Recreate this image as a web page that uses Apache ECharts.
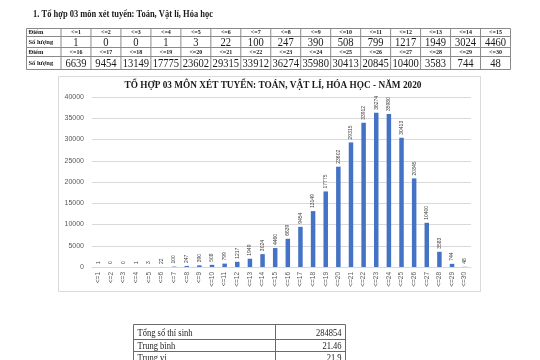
<!DOCTYPE html>
<html><head><meta charset="utf-8">
<script src="https://cdn.jsdelivr.net/npm/echarts@6/dist/echarts.min.js"></script>
<style>html,body{margin:0;padding:0;background:#fff}#c{width:540px;height:360px}</style>
</head><body><div id="c"></div>
<script>
// ---- data ----
const heading = '1. Tổ hợp 03 môn xét tuyển: Toán, Vật lí, Hóa học';
const chartTitle = 'TỔ HỢP 03 MÔN XÉT TUYỂN: TOÁN, VẬT LÍ, HÓA HỌC - NĂM 2020';
const categories = ['<=1','<=2','<=3','<=4','<=5','<=6','<=7','<=8','<=9','<=10','<=11','<=12','<=13','<=14','<=15',
  '<=16','<=17','<=18','<=19','<=20','<=21','<=22','<=23','<=24','<=25','<=26','<=27','<=28','<=29','<=30'];
const counts = [1,0,0,1,3,22,100,247,390,508,799,1217,1949,3024,4460,
  6639,9454,13149,17775,23602,29315,33912,36274,35980,30413,20845,10400,3583,744,48];
const rowLabelScore = 'Điểm';
const rowLabelCount = 'Số lượng';
const yMin = 0, yMax = 40000, yStep = 5000;
const summaryLabels = ['Tổng số thí sinh','Trung bình','Trung vị'];
const summaryValues = ['284854','21.46','21.9'];

// ---- helpers ----
const SERIF = '"Liberation Serif","DejaVu Serif",serif';
const SANS = '"Liberation Sans","Open Sans",sans-serif';
const mctx = document.createElement('canvas').getContext('2d');
function measure(text, font){ mctx.font = font; return mctx.measureText(text).width; }
const G = [];
function txt(text, x, y, o){
  o = o || {};
  const size = o.size || 10, weight = o.bold ? 'bold ' : '';
  const family = o.family || SERIF;
  const font = weight + size + 'px ' + family;
  let sx = o.sx || 1;
  if (o.width) sx = o.width / measure(text, font);
  G.push({type:'text', x:x, y:y, scaleX:sx, silent:true,
    style:{text:text, font:font, fill:o.color||'#1a1a1a', align:o.align||'left', verticalAlign:'middle'}});
}
function line(x1,y1,x2,y2,c){
  G.push({type:'line', silent:true, shape:{x1:x1,y1:y1,x2:x2,y2:y2}, style:{stroke:c||'#8a8a8a', lineWidth:1}});
}

// heading
txt(heading, 33, 14, {size:11, bold:true, width:180});

// top table
const tx0 = 26.5, c0w = 34.5, tx1 = 510.5;
const cw = (tx1 - tx0 - c0w) / 15;
const ty = [28.5, 36.5, 47.5, 56.5, 69.5];
ty.forEach(y => line(tx0, y, tx1, y));
line(tx0, ty[0], tx0, ty[4]);
for (let i = 0; i <= 15; i++) { const x = tx0 + c0w + i*cw; line(x, ty[0], x, ty[4]); }
for (let r = 0; r < 2; r++) {
  const yh = (ty[r*2] + ty[r*2+1]) / 2, yn = (ty[r*2+1] + ty[r*2+2]) / 2;
  txt(rowLabelScore, tx0 + 2, yh, {size:6.5, bold:true});
  txt(rowLabelCount, tx0 + 2, yn, {size:6.5, bold:true});
  for (let i = 0; i < 15; i++) {
    const k = r*15 + i, cx = tx0 + c0w + (i + 0.5)*cw;
    txt(categories[k], cx, yh, {size:6, bold:true, align:'center'});
    txt(String(counts[k]), cx, yn + 0.5, {size:11.5, align:'center', sx:0.92});
  }
}

// chart frame + title
G.push({type:'rect', silent:true, shape:{x:58.5, y:76.5, width:422, height:215}, style:{fill:'none', stroke:'#d9d9d9', lineWidth:1}});
txt(chartTitle, 273, 86, {size:9.5, bold:true, width:297, align:'center'});

// bottom summary table
const bx = [133.5, 275.5, 345.5], by = [324.5, 339.5, 351.5, 363.5];
by.forEach(y => line(bx[0], y, bx[2], y, '#6a6a6a'));
bx.forEach(x => line(x, by[0], x, by[3], '#6a6a6a'));
for (let i = 0; i < 3; i++) {
  const y = (by[i] + by[i+1]) / 2 + 1;
  txt(summaryLabels[i], bx[0] + 4, y, {size:10, sx:0.85});
  txt(summaryValues[i], bx[2] - 4, y, {size:10, sx:0.85, align:'right'});
}

const chart = echarts.init(document.getElementById('c'), null, {renderer:'canvas'});
chart.setOption({
  animation:false,
  backgroundColor:'#fff',
  grid:{left:92, right:69, top:97, bottom:93},
  xAxis:{type:'category', data:categories,
    axisLine:{lineStyle:{color:'#d9d9d9'}}, axisTick:{show:false},
    axisLabel:{rotate:90, interval:0, fontSize:6.5, color:'#595959', fontFamily:SANS, margin:5}},
  yAxis:{type:'value', min:yMin, max:yMax, interval:yStep,
    axisLine:{show:false}, axisTick:{show:false},
    splitLine:{lineStyle:{color:'#d9d9d9'}},
    axisLabel:{fontSize:7, color:'#595959', fontFamily:SANS, margin:8, formatter:v => String(v)}},
  series:[{type:'bar', data:counts, barWidth:4.5, itemStyle:{color:'#4472C4'},
    label:{show:true, position:'top', rotate:90, align:'left', verticalAlign:'middle', distance:3,
      fontSize:5, color:'#404040', fontFamily:SANS}}],
  graphic:G
});
</script></body></html>
